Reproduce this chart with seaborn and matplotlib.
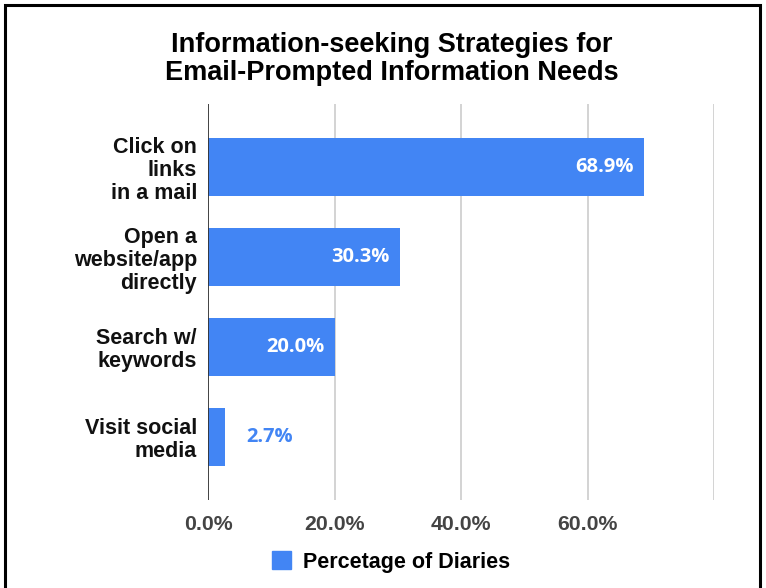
import matplotlib
matplotlib.use("Agg")
import matplotlib.pyplot as plt
import matplotlib.patches as mpatches
import seaborn as sns
import pandas as pd

# Chart data
strategies = [
    "Click on\nlinks\nin a mail",
    "Open a\nwebsite/app\ndirectly",
    "Search w/\nkeywords",
    "Visit social\nmedia",
]
pct_diaries = [68.9, 30.3, 20.0, 2.7]
x_ticks = [0, 20, 40, 60, 80]
x_tick_labels = ["0.0%", "20.0%", "40.0%", "60.0%", ""]
series_name = "Percetage of Diaries"
title = "Information-seeking Strategies for\nEmail-Prompted Information Needs"

BLUE = "#4285F4"

plt.rcParams["font.family"] = ["Liberation Sans", "DejaVu Sans"]

df = pd.DataFrame({"strategy": strategies, "pct": pct_diaries})

fig = plt.figure(figsize=(7.66, 5.88), dpi=100)
ax = fig.add_axes([208 / 766, 1 - 500 / 588, (714 - 208) / 766, (500 - 104) / 588])

sns.barplot(data=df, y="strategy", x="pct", orient="h", color=BLUE,
            saturation=1, width=0.64, ax=ax, zorder=3)

ax.set_xlim(0, 80)
ax.set_ylim(3.7, -0.7)
ax.set_xlabel("")
ax.set_ylabel("")

# Vertical gridlines, darker baseline at zero
for xv in x_ticks[1:]:
    ax.axvline(xv, color="#d0d0d0", lw=1.3, zorder=1)
ax.axvline(0, color="#333333", lw=1.3, zorder=4)

for sp in ax.spines.values():
    sp.set_visible(False)

ax.set_xticks(x_ticks)
ax.set_xticklabels(x_tick_labels, fontsize=15.3, fontweight="bold", color="#444444")
ax.tick_params(axis="x", length=0, pad=11)
ax.tick_params(axis="y", length=0, pad=8)
for lbl in ax.get_yticklabels():
    lbl.set_fontsize(15.5)
    lbl.set_fontweight("bold")
    lbl.set_color("#111111")
    lbl.set_linespacing(1.12)

# Value labels: inside the bar end when it fits, otherwise just past it
for i, v in enumerate(pct_diaries):
    txt = f"{v:.1f}%"
    if v > 10:
        ax.annotate(txt, xy=(v, i), xytext=(-7, 0), textcoords="offset points",
                    ha="right", va="center", color="white", fontsize=14.5,
                    fontweight="bold", family=["Open Sans", "DejaVu Sans"], zorder=5)
    else:
        ax.annotate(txt, xy=(v, i), xytext=(15, 0), textcoords="offset points",
                    ha="left", va="center", color=BLUE, fontsize=14.5,
                    fontweight="bold", family=["Open Sans", "DejaVu Sans"], zorder=5)

fig.text(392 / 766, 1 - 59 / 588, title, ha="center", va="center", fontsize=19.5,
         fontweight="bold", color="black", linespacing=1.14)

handle = mpatches.Patch(color=BLUE, label=series_name)
leg = fig.legend(handles=[handle], loc="center", bbox_to_anchor=(0.51, 1 - 562 / 588),
                 frameon=False, handlelength=0.88, handleheight=0.88, handletextpad=0.56,
                 borderpad=0, prop={"size": 15.5, "weight": "bold"})

# Outer frame
fig.add_artist(mpatches.Rectangle((5 / 766, -0.02), 755 / 766, 1 - 5 / 588 + 0.02,
                                  transform=fig.transFigure, fill=False,
                                  edgecolor="black", lw=2.2))

fig.savefig("out.png", dpi=100, facecolor="white")
